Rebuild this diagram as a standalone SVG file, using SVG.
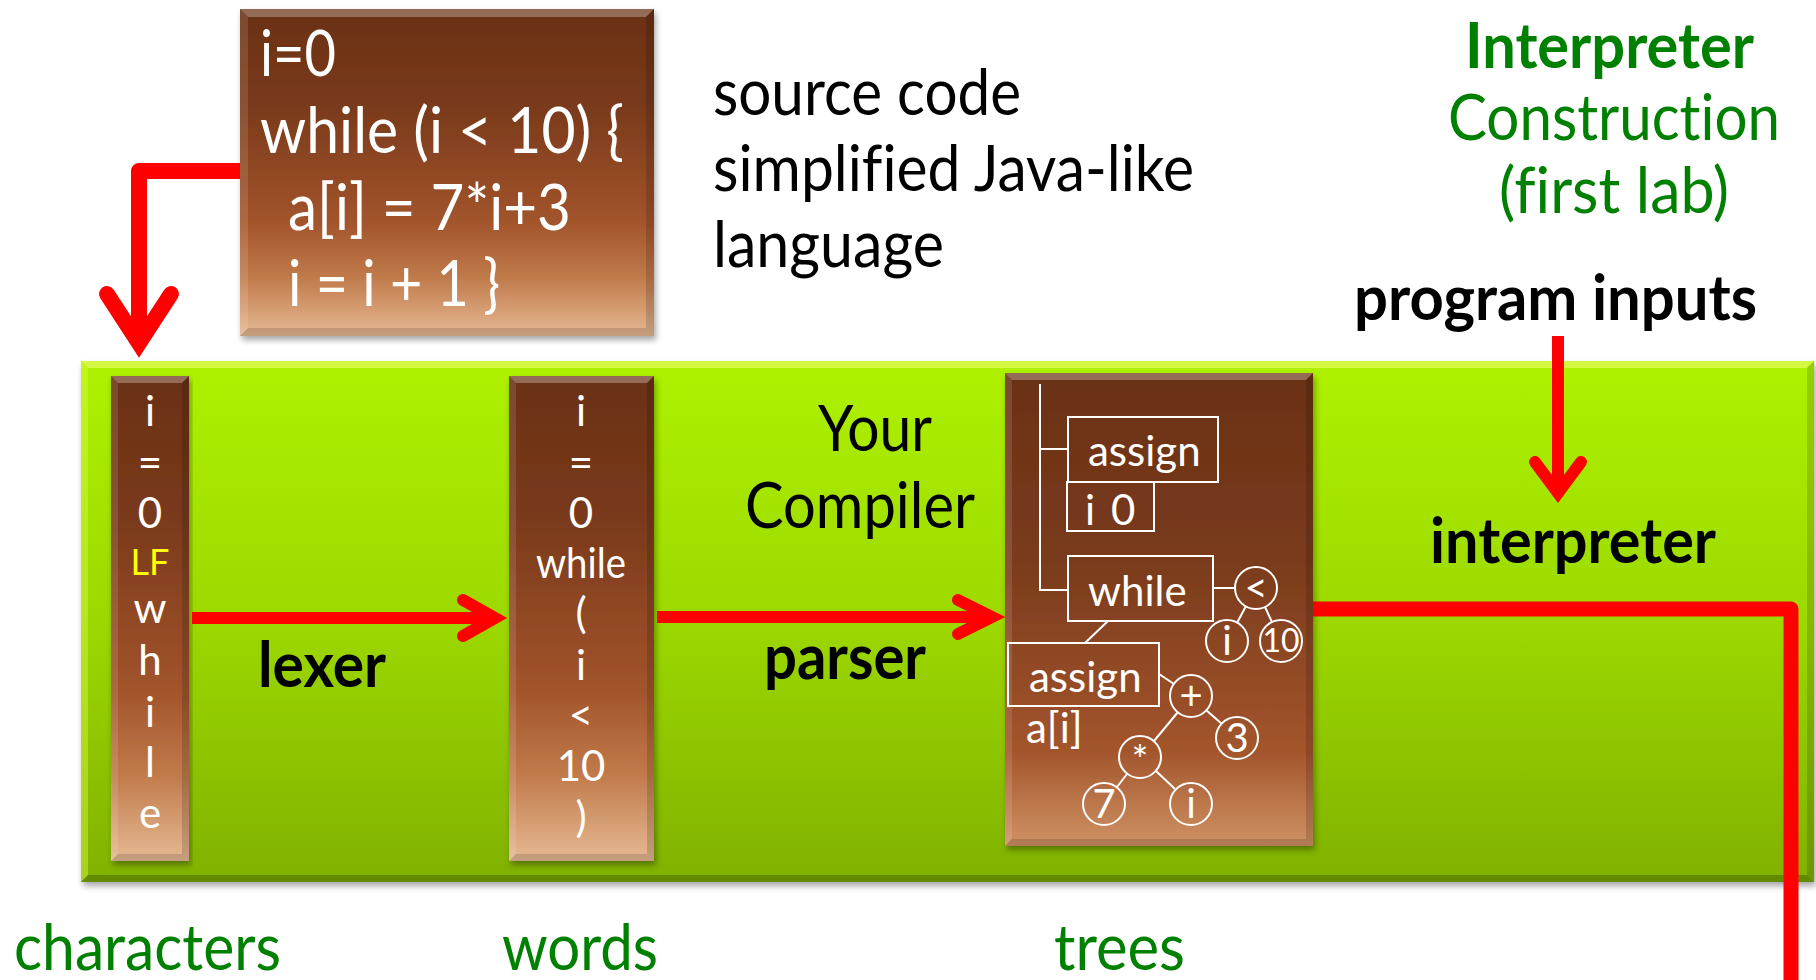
<svg xmlns="http://www.w3.org/2000/svg" width="1816" height="980" viewBox="0 0 1816 980">
  <style>
    text { font-family: Lato, "Liberation Sans", sans-serif; font-variant-ligatures: none; font-feature-settings: "liga" 0, "clig" 0, "dlig" 0; }
    .big { font-size: 63px; fill: #000; }
    .bold { font-weight: 700; }
    .green { fill: #008000; }
    .code { font-size: 63px; fill: #fff; }
    .col { font-size: 42px; fill: #fff; text-anchor: middle; }
    .lf { fill: #ffff00; font-size: 36px; }
    .tree { font-size: 42px; fill: #fff; }
    .node { font-size: 40px; fill: #fff; text-anchor: middle; }
    .edge { stroke: #fff; stroke-width: 2; fill: none; }
    .circ { stroke: #fff; stroke-width: 2; fill: none; }
    .arrow { stroke: #ff0000; fill: none; stroke-linecap: butt; stroke-linejoin: round; }
    .head { stroke: #ff0000; fill: none; stroke-linecap: round; stroke-linejoin: miter; stroke-miterlimit: 10; }
    .hl { fill: #fff; opacity: 0.28; }
    .hl2 { fill: #fff; opacity: 0.12; }
    .dk { fill: #000; opacity: 0.14; }
    .dk2 { fill: #000; opacity: 0.22; }
  </style>
  <defs>
    <linearGradient id="brown" x1="0" y1="0" x2="0" y2="1">
      <stop offset="0" stop-color="#6a3116"/>
      <stop offset="0.3" stop-color="#7a3a1b"/>
      <stop offset="0.65" stop-color="#a2542b"/>
      <stop offset="0.82" stop-color="#c07a4a"/>
      <stop offset="1" stop-color="#e6b993"/>
    </linearGradient>
    <linearGradient id="brownTree" x1="0" y1="0" x2="0" y2="1">
      <stop offset="0" stop-color="#6a3116"/>
      <stop offset="0.4" stop-color="#7a3b1c"/>
      <stop offset="0.8" stop-color="#a3552c"/>
      <stop offset="1" stop-color="#cf9264"/>
    </linearGradient>
    <linearGradient id="lime" x1="0" y1="0" x2="0" y2="1">
      <stop offset="0" stop-color="#aef200"/>
      <stop offset="0.5" stop-color="#9cd800"/>
      <stop offset="1" stop-color="#80b100"/>
    </linearGradient>
    <filter id="shadow" x="-5%" y="-5%" width="110%" height="115%">
      <feDropShadow dx="2" dy="4" stdDeviation="3" flood-color="#000" flood-opacity="0.35"/>
    </filter>
  </defs>

  <rect width="1816" height="980" fill="#fff"/>

  <!-- source program box -->
  <g id="source-code">
    <rect x="240" y="9" width="414" height="327" fill="url(#brown)" filter="url(#shadow)"/>
    <polygon class="hl" points="240,9 654,9 646,17 248,17"/>
    <polygon class="hl2" points="240,9 248,17 248,328 240,336"/>
    <polygon class="dk" points="654,9 654,336 646,328 646,17"/>
    <polygon class="dk" points="240,336 654,336 646,328 248,328"/>
    <text class="code" x="260" y="76" textLength="76" lengthAdjust="spacingAndGlyphs">i=0</text>
    <text class="code" x="260" y="153" textLength="364" lengthAdjust="spacingAndGlyphs">while (i &lt; 10) {</text>
    <text class="code" x="288" y="230" textLength="283" lengthAdjust="spacingAndGlyphs">a[i] = 7*i+3</text>
    <text class="code" x="288" y="306" textLength="212" lengthAdjust="spacingAndGlyphs">i = i + 1 }</text>
  </g>

  <g id="source-caption">
    <text class="big" x="713" y="115" textLength="308" lengthAdjust="spacingAndGlyphs">source code</text>
    <text class="big" x="713" y="191" textLength="481" lengthAdjust="spacingAndGlyphs">simplified Java-like</text>
    <text class="big" x="713" y="267" textLength="231" lengthAdjust="spacingAndGlyphs">language</text>
  </g>

  <g id="title">
    <text class="big bold green" x="1465" y="68" textLength="289" lengthAdjust="spacingAndGlyphs">Interpreter</text>
    <text class="big green" x="1448" y="140" textLength="332" lengthAdjust="spacingAndGlyphs">Construction</text>
    <text class="big green" x="1499" y="213" textLength="230" lengthAdjust="spacingAndGlyphs">(first lab)</text>
  </g>

  <g id="program-inputs">
    <text class="big bold" x="1354" y="320" textLength="403" lengthAdjust="spacingAndGlyphs">program inputs</text>
  </g>

  <!-- compiler / interpreter pipeline panel -->
  <g id="pipeline">
    <rect x="81" y="361" width="1733" height="521" fill="url(#lime)" filter="url(#shadow)"/>
    <polygon fill="#e4fa60" opacity="0.7" points="81,361 1814,361 1807,368 88,368"/>
    <polygon fill="#d8f840" opacity="0.45" points="81,361 88,368 88,875 81,882"/>
    <polygon class="dk" points="1814,361 1814,882 1807,875 1807,368"/>
    <polygon class="dk2" points="81,882 1814,882 1807,875 88,875"/>
    <text class="big" x="818" y="451" textLength="114" lengthAdjust="spacingAndGlyphs">Your</text>
    <text class="big" x="745" y="528" textLength="230" lengthAdjust="spacingAndGlyphs">Compiler</text>
    <text class="big bold" x="258" y="687" textLength="128" lengthAdjust="spacingAndGlyphs">lexer</text>
    <text class="big bold" x="764" y="679" textLength="162" lengthAdjust="spacingAndGlyphs">parser</text>
    <text class="big bold" x="1430" y="563" textLength="286" lengthAdjust="spacingAndGlyphs">interpreter</text>
  </g>

  <!-- character stream -->
  <g id="characters">
    <rect x="111" y="376" width="78" height="485" fill="url(#brown)" filter="url(#shadow)"/>
    <polygon class="hl" points="111,376 189,376 182,383 118,383"/>
    <polygon class="hl2" points="111,376 118,383 118,854 111,861"/>
    <polygon class="dk" points="189,376 189,861 182,854 182,383"/>
    <polygon class="dk" points="111,861 189,861 182,854 118,854"/>
    <text class="col" x="150" y="426">i</text>
    <text class="col" x="150" y="477">=</text>
    <text class="col" x="150" y="528">0</text>
    <text class="col lf" x="150" y="575">LF</text>
    <text class="col" x="150" y="623">w</text>
    <text class="col" x="150" y="675">h</text>
    <text class="col" x="150" y="727">i</text>
    <text class="col" x="150" y="777">l</text>
    <text class="col" x="150" y="828">e</text>
  </g>

  <!-- token stream -->
  <g id="words">
    <rect x="509" y="376" width="145" height="485" fill="url(#brown)" filter="url(#shadow)"/>
    <polygon class="hl" points="509,376 654,376 647,383 516,383"/>
    <polygon class="hl2" points="509,376 516,383 516,854 509,861"/>
    <polygon class="dk" points="654,376 654,861 647,854 647,383"/>
    <polygon class="dk" points="509,861 654,861 647,854 516,854"/>
    <text class="col" x="581" y="426">i</text>
    <text class="col" x="581" y="477">=</text>
    <text class="col" x="581" y="528">0</text>
    <text class="col" x="581" y="578" textLength="90" lengthAdjust="spacingAndGlyphs">while</text>
    <text class="col" x="581" y="628">(</text>
    <text class="col" x="581" y="680">i</text>
    <text class="col" x="581" y="730">&lt;</text>
    <text class="col" x="581" y="781">10</text>
    <text class="col" x="581" y="832">)</text>
  </g>

  <!-- syntax tree -->
  <g id="trees">
    <rect x="1005" y="373" width="308" height="473" fill="url(#brownTree)" filter="url(#shadow)"/>
    <polygon class="hl" points="1005,373 1313,373 1306,380 1012,380"/>
    <polygon class="hl2" points="1005,373 1012,380 1012,839 1005,846"/>
    <polygon class="dk" points="1313,373 1313,846 1306,839 1306,380"/>
    <polygon class="dk" points="1005,846 1313,846 1306,839 1012,839"/>
    <path class="edge" d="M1040,384 V590 H1068 M1040,449 H1068"/>
    <rect class="edge" x="1068" y="417" width="150" height="65"/>
    <text class="tree" x="1088" y="466">assign</text>
    <rect class="edge" x="1067" y="482" width="87" height="49"/>
    <text class="tree" y="525"><tspan x="1085">i</tspan> <tspan x="1111">0</tspan></text>
    <rect class="edge" x="1068" y="556" width="145" height="65"/>
    <text class="tree" x="1088" y="606">while</text>
    <path class="edge" d="M1213,588 H1235 M1246,606 L1237,623 M1265,607 L1272,622 M1108,621 L1085,643"/>
    <circle class="circ" cx="1256" cy="588" r="21"/>
    <text class="node" x="1256" y="602">&lt;</text>
    <circle class="circ" cx="1227" cy="641" r="21"/>
    <text class="node" x="1227" y="655">i</text>
    <circle class="circ" cx="1281" cy="641" r="21"/>
    <text class="node" x="1281" y="652" style="font-size:32px">10</text>
    <rect class="edge" x="1008" y="643" width="151" height="63"/>
    <text class="tree" x="1029" y="692">assign</text>
    <text class="tree" x="1026" y="743">a[i]</text>
    <path class="edge" d="M1159,674 L1174,684 M1206,710 L1222,724 M1178,712 L1154,741 M1127,774 L1117,787 M1156,771 L1175,789"/>
    <circle class="circ" cx="1191" cy="696" r="21"/>
    <text class="node" x="1191" y="710">+</text>
    <circle class="circ" cx="1237" cy="738" r="21"/>
    <text class="node" x="1237" y="752">3</text>
    <circle class="circ" cx="1140" cy="757" r="21"/>
    <text class="node" x="1140" y="775">*</text>
    <circle class="circ" cx="1104" cy="804" r="21"/>
    <text class="node" x="1104" y="818">7</text>
    <circle class="circ" cx="1191" cy="804" r="21"/>
    <text class="node" x="1191" y="818">i</text>
  </g>

  <g id="stage-labels">
    <text class="big green" x="14" y="970" textLength="267" lengthAdjust="spacingAndGlyphs">characters</text>
    <text class="big green" x="502" y="970" textLength="156" lengthAdjust="spacingAndGlyphs">words</text>
    <text class="big green" x="1054" y="970" textLength="131" lengthAdjust="spacingAndGlyphs">trees</text>
  </g>

  <g id="connectors">
    <!-- source code into the character stream -->
    <path class="arrow" stroke-width="16" d="M240,171 H139 V345"/>
    <path class="head" stroke-width="16" d="M107,294 L139,343 L171,294"/>
    <!-- lexer -->
    <path class="arrow" stroke-width="12" d="M192,618 H495"/>
    <path class="head" stroke-width="12" d="M463,600 L495,618 L463,636"/>
    <!-- parser -->
    <path class="arrow" stroke-width="12" d="M657,617 H992"/>
    <path class="head" stroke-width="12" d="M958,600 L992,617 L958,634"/>
    <!-- program inputs -->
    <path class="arrow" stroke-width="12" d="M1558,336 V492"/>
    <path class="head" stroke-width="12" d="M1535,462 L1558,493 L1581,462"/>
    <!-- interpreter output -->
    <path class="arrow" stroke-width="15" d="M1313,609 H1791 V980"/>
  </g>
</svg>
